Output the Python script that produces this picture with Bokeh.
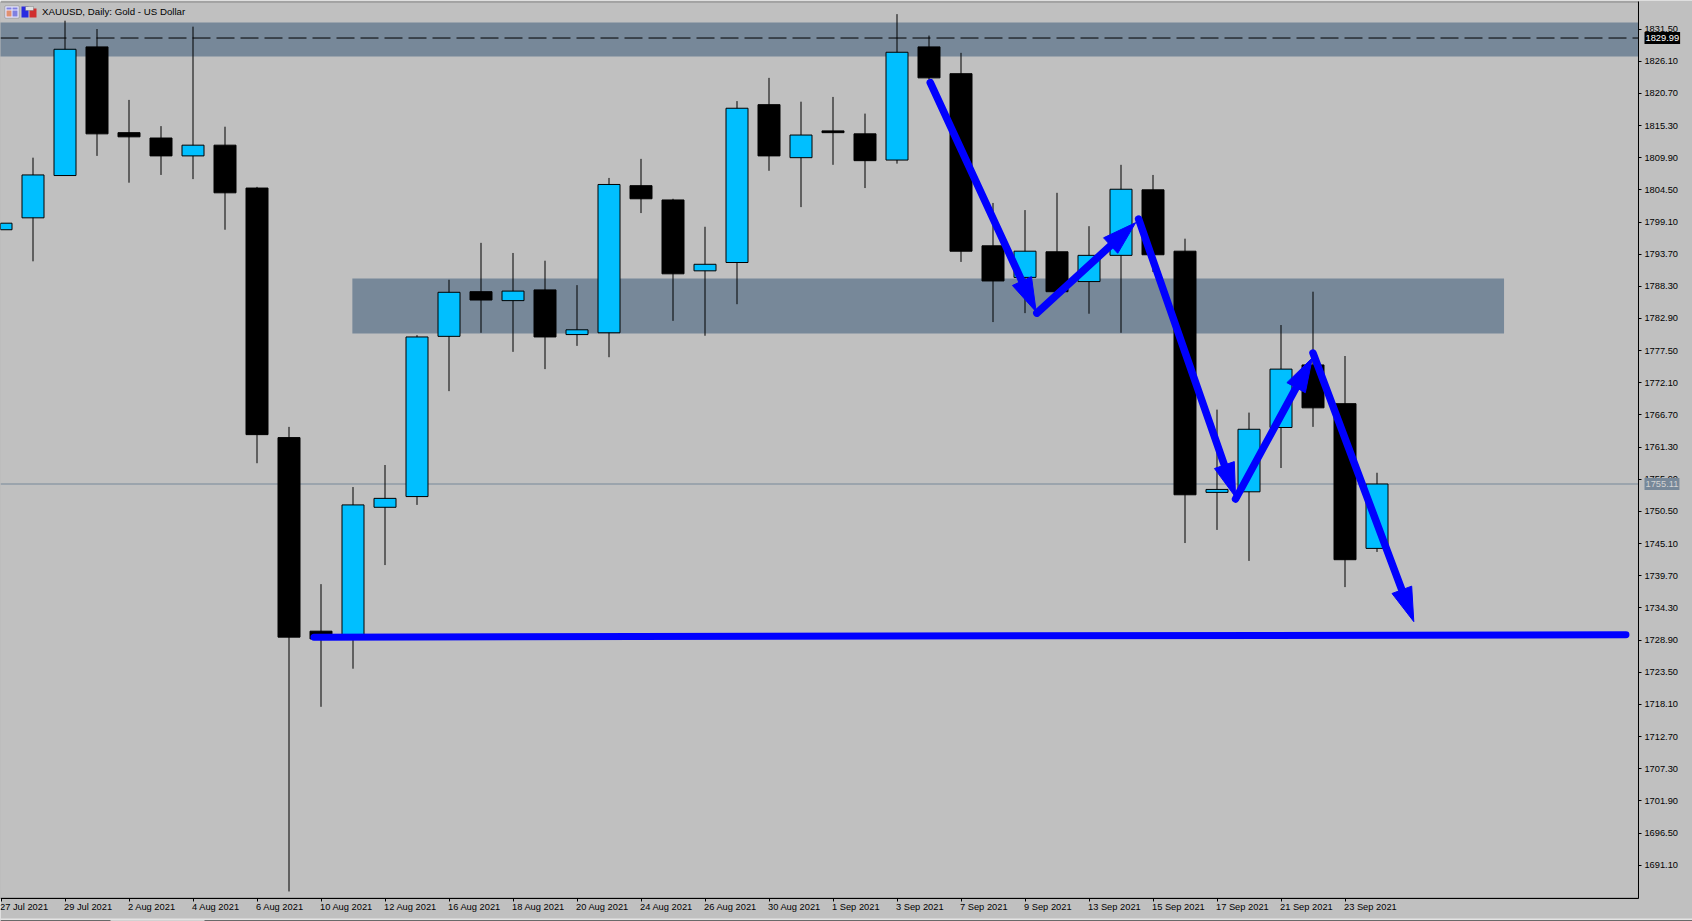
from bokeh.plotting import figure
from bokeh.models import FixedTicker, Label, LinearAxis, NumeralTickFormatter, Range1d, BoxAnnotation
from bokeh.embed import file_html
from bokeh.resources import INLINE
import numpy as np

FONT = "Liberation Sans"
FONT_SIZE = "9.3px"

dates = ["27 Jul", "28 Jul", "29 Jul", "30 Jul", "2 Aug", "3 Aug", "4 Aug", "5 Aug", "6 Aug", "9 Aug", "10 Aug",
         "11 Aug", "12 Aug", "13 Aug", "16 Aug", "17 Aug", "18 Aug", "19 Aug", "20 Aug", "23 Aug", "24 Aug",
         "25 Aug", "26 Aug", "27 Aug", "30 Aug", "31 Aug", "1 Sep", "2 Sep", "3 Sep", "6 Sep", "7 Sep", "8 Sep",
         "9 Sep", "10 Sep", "13 Sep", "14 Sep", "15 Sep", "16 Sep", "17 Sep", "20 Sep", "21 Sep", "22 Sep",
         "23 Sep", "24 Sep"]

opens = [1797.8, 1799.8, 1806.9, 1828.5, 1814.1, 1813.2, 1810.2, 1812.0, 1804.8, 1762.9, 1730.4,
         1729.5, 1751.2, 1753.0, 1779.9, 1787.4, 1785.9, 1787.7, 1780.2, 1780.5, 1805.2,
         1802.8, 1790.9, 1792.3, 1818.8, 1809.9, 1814.4, 1813.9, 1809.5, 1828.5, 1824.0, 1795.1,
         1789.8, 1794.1, 1789.1, 1793.5, 1804.5, 1794.2, 1753.7, 1753.8, 1764.6, 1775.1,
         1768.6, 1744.3]
highs = [1798.9, 1809.9, 1832.9, 1831.5, 1819.6, 1815.2, 1831.9, 1815.1, 1805.0, 1764.7, 1738.3,
         1754.6, 1758.3, 1780.1, 1789.4, 1795.6, 1793.9, 1792.6, 1788.5, 1806.5, 1809.7,
         1803.0, 1798.3, 1819.4, 1823.3, 1819.3, 1820.1, 1817.3, 1834.0, 1830.4, 1827.5, 1802.3,
         1801.1, 1804.0, 1798.4, 1808.7, 1807.0, 1796.3, 1767.6, 1767.1, 1781.8, 1787.4,
         1776.6, 1757.0]
lows = [1797.8, 1792.5, 1806.9, 1810.2, 1805.7, 1807.0, 1806.3, 1797.8, 1758.6, 1686.7, 1717.7,
        1724.1, 1741.5, 1751.6, 1770.7, 1780.5, 1777.3, 1774.4, 1778.3, 1776.4, 1800.6,
        1782.5, 1780.0, 1785.3, 1807.7, 1801.6, 1808.7, 1804.8, 1808.9, 1823.0, 1792.4, 1782.3,
        1783.8, 1787.2, 1783.7, 1780.5, 1790.7, 1745.2, 1747.4, 1742.2, 1757.8, 1764.7,
        1737.8, 1743.7]
closes = [1798.9, 1807.0, 1828.1, 1813.9, 1813.4, 1810.2, 1812.0, 1804.0, 1763.4, 1729.4, 1729.1,
          1751.6, 1752.7, 1779.8, 1787.3, 1786.0, 1787.5, 1779.8, 1781.0, 1805.4, 1803.0,
          1790.4, 1792.0, 1818.2, 1810.2, 1813.7, 1814.1, 1809.4, 1827.6, 1823.3, 1794.2, 1789.2,
          1794.2, 1787.4, 1793.5, 1804.6, 1793.6, 1753.3, 1754.2, 1764.3, 1774.4, 1767.9,
          1742.4, 1755.11]

y_tick_values = [1831.5, 1826.1, 1820.7, 1815.3, 1809.9, 1804.5, 1799.1, 1793.7, 1788.3, 1782.9, 1777.5,
                 1772.1, 1766.7, 1761.3, 1755.9, 1750.5, 1745.1, 1739.7, 1734.3, 1728.9, 1723.5, 1718.1,
                 1712.7, 1707.3, 1701.9, 1696.5, 1691.1]
x_tick_bars = [0, 2, 4, 6, 8, 10, 12, 14, 16, 18, 20, 22, 24, 26, 28, 30, 32, 34, 36, 38, 40, 42]
x_tick_labels = ["27 Jul 2021", "29 Jul 2021", "2 Aug 2021", "4 Aug 2021", "6 Aug 2021", "10 Aug 2021",
                 "12 Aug 2021", "16 Aug 2021", "18 Aug 2021", "20 Aug 2021", "24 Aug 2021", "26 Aug 2021",
                 "30 Aug 2021", "1 Sep 2021", "3 Sep 2021", "7 Sep 2021", "9 Sep 2021", "13 Sep 2021",
                 "15 Sep 2021", "17 Sep 2021", "21 Sep 2021", "23 Sep 2021"]

zone_left = [-1.0, 10.98]
zone_right = [51.17, 46.97]
zone_top = [1832.6, 1789.6]
zone_bottom = [1826.9, 1780.4]

resistance_price = 1829.99
last_price = 1755.11

arrow_x0 = [29.04, 32.37, 35.55, 38.58, 41.0]
arrow_y0 = [1822.5, 1783.8, 1799.6, 1752.6, 1777.1]
arrow_x1 = [32.35, 35.46, 38.58, 40.98, 44.15]
arrow_y1 = [1784.0, 1799.0, 1752.9, 1776.3, 1732.0]
support_x = [9.78, 50.78]
support_y = [1729.4, 1729.8]

W, H = 1692, 921
X_PX, Y_PX = 32.0, 5.956
BG, ZONE, BULL, BLUE = "#c0c0c0", "#778899", "#00bfff", "#0000ff"

x_start, x_end = -0.5 / X_PX, (W - 0.5) / X_PX
y_end, y_start = 1836.29, 1836.29 - H / Y_PX
frame_right, frame_top, frame_bottom = 51.17, 1836.04, 1685.6

p = figure(width=W, height=H, output_backend="svg", toolbar_location=None, tools="",
           x_range=Range1d(x_start, x_end), y_range=Range1d(y_start, y_end),
           x_axis_location=None, y_axis_location=None,
           min_border_left=0, min_border_right=0, min_border_top=0, min_border_bottom=0,
           background_fill_color=BG, border_fill_color=BG, outline_line_color=None)
p.grid.visible = False

# zones and price lines
p.quad(left=zone_left, right=zone_right, top=zone_top, bottom=zone_bottom, fill_color=ZONE, line_color=None)
p.line([x_start, frame_right], [last_price, last_price], line_color=ZONE, line_width=1)
p.line([x_start, frame_right], [resistance_price, resistance_price], line_color="black", line_width=1, line_dash="18 6")

# axes placed on the chart window's own edges
xax = LinearAxis(fixed_location=frame_bottom, bounds=(x_start, frame_right), ticker=FixedTicker(ticks=x_tick_bars),
                 major_label_text_color=None, major_label_text_font_size="1px",
                 major_tick_in=0, major_tick_out=3, minor_tick_line_color=None,
                 axis_line_color="black", major_tick_line_color="black")
p.add_layout(xax, "below")
yax = LinearAxis(fixed_location=frame_right, bounds=(frame_bottom, frame_top), ticker=FixedTicker(ticks=y_tick_values),
                 formatter=NumeralTickFormatter(format="0.00"),
                 major_label_text_font=FONT, major_label_text_font_size=FONT_SIZE, major_label_text_color="black",
                 major_label_standoff=3, major_tick_in=0, major_tick_out=3, minor_tick_line_color=None,
                 axis_line_color="black", major_tick_line_color="black")
p.add_layout(yax, "right")
p.add_layout(BoxAnnotation(left=x_start, right=frame_right, top=frame_top, bottom=frame_bottom,
                           fill_color=None, line_color="black", line_width=1, level="underlay"))

# candles
o, h, l, c = map(np.array, (opens, highs, lows, closes))
idx = np.arange(len(o))
p.segment(idx, h, idx, l, line_color="black", line_width=1)
up = c >= o
p.vbar(idx[up], 22 / X_PX, o[up], c[up], fill_color=BULL, line_color="black", line_width=1)
p.vbar(idx[~up], 22 / X_PX, c[~up], o[~up], fill_color="black", line_color="black", line_width=1)

# blue drawn arrows
p.line(support_x, support_y, line_color=BLUE, line_width=7, line_cap="round")
ax0, ay0, ax1, ay1 = map(np.array, (arrow_x0, arrow_y0, arrow_x1, arrow_y1))
dxp, dyp = (ax1 - ax0) * X_PX, (ay1 - ay0) * Y_PX
lens = np.hypot(dxp, dyp)
ux, uy = dxp / lens, dyp / lens
HL, HW = 34.0, 10.5
bx, by = ax1 - ux * HL / X_PX, ay1 - uy * HL / Y_PX
p.segment(ax0, ay0, bx, by, line_color=BLUE, line_width=7.5, line_cap="round")
p.patches([[x1, xb - uy[i] * HW / X_PX, xb + uy[i] * HW / X_PX] for i, (x1, xb) in enumerate(zip(ax1, bx))],
          [[y1, yb + ux[i] * HW / Y_PX, yb - ux[i] * HW / Y_PX] for i, (y1, yb) in enumerate(zip(ay1, by))],
          fill_color=BLUE, line_color=BLUE, line_width=1)

# date labels, left-aligned on their ticks
for bar, text in zip(x_tick_bars, x_tick_labels):
    p.add_layout(Label(x=bar, x_units="data", x_offset=-1, y=H - 906.5, y_units="screen", text=text,
                       text_font=FONT, text_font_size=FONT_SIZE, text_color="black",
                       text_align="left", text_baseline="middle"))

# price tags
p.add_layout(Label(x=1644, x_units="screen", y=resistance_price, y_units="data", text="1829.99",
                   text_font=FONT, text_font_size=FONT_SIZE, text_color="white", text_baseline="middle",
                   background_fill_color="black", padding=(1, 3)))
p.add_layout(Label(x=1644, x_units="screen", y=last_price, y_units="data", text="1755.11",
                   text_font=FONT, text_font_size=FONT_SIZE, text_color="#d3d3d3", text_baseline="middle",
                   background_fill_color=ZONE, padding=(1, 3)))

# chart window title and its two small icons
p.add_layout(Label(x=41.5, x_units="screen", y=H - 11, y_units="screen", text="XAUUSD, Daily:  Gold - US Dollar",
                   text_font=FONT, text_font_size="9.7px", text_color="black",
                   text_align="left", text_baseline="middle"))

def box(x0, y0, x1, y1, fill, line=None):
    p.add_layout(BoxAnnotation(left=x0, right=x1, top=H - y0, bottom=H - y1,
                               left_units="screen", right_units="screen", top_units="screen", bottom_units="screen",
                               fill_color=fill, fill_alpha=1, line_color=line, level="overlay"))

box(4.5, 5.5, 18.5, 17.5, "#e8e8ff", "#505050")
box(6, 7, 11, 9, "#8080e0")
box(6, 10, 11, 16, "#e09070")
box(12, 7, 17, 9, "#8080e0")
box(12, 10, 17, 16, "#8080e0")
box(21, 6, 28, 17, "#2a2ae0")
box(29, 8, 36, 17, "#d03030")
box(25, 6, 33, 10, "#e0e0e0", "#505050")

# lower edge of the terminal window
box(0, 918, W, 920, "#e4e4e4")
box(0, 920, 110, 921, "black")
box(204, 920, W, 921, "black")

open("out.html", "w").write(file_html(p, INLINE))
